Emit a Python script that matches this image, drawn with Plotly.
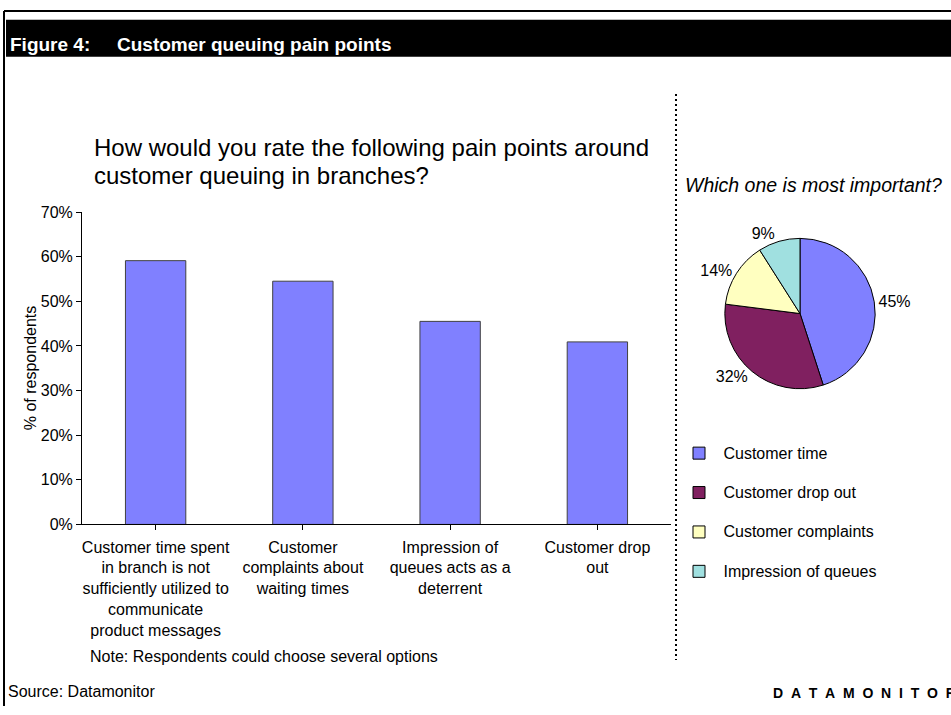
import plotly.graph_objects as go

W, H = 951, 715
FONT = "Liberation Sans, Arial, sans-serif"

# ---- data ----
bar_categories = [
    "Customer time spent<br>in branch is not<br>sufficiently utilized to<br>communicate<br>product messages",
    "Customer<br>complaints about<br>waiting times",
    "Impression of<br>queues acts as a<br>deterrent",
    "Customer drop<br>out",
]
bar_values = [0.591, 0.545, 0.455, 0.409]
y_tick_vals = [0, 0.1, 0.2, 0.3, 0.4, 0.5, 0.6, 0.7]
y_tick_text = ["0%", "10%", "20%", "30%", "40%", "50%", "60%", "70%"]

pie_labels = ["Customer time", "Customer drop out", "Customer complaints", "Impression of queues"]
pie_values = [45, 32, 14, 9]
pie_colors = ["#8080FF", "#802060", "#FFFFC0", "#A0E0E0"]

subtitle_lines = ["How would you rate the following pain points around",
                  "customer queuing in branches?"]


def px(x):
    return x / W


def py(y):
    return 1 - y / H


fig = go.Figure()

fig.add_trace(go.Bar(
    x=list(range(len(bar_values))),
    y=bar_values,
    width=0.41,
    marker=dict(color="#8080FF", line=dict(color="#404040", width=1)),
    showlegend=False,
    xaxis="x", yaxis="y",
))

legend_names = [f"<span style='font-size:16px'>\u00a0{l}</span><br> " for l in pie_labels]
fig.add_trace(go.Pie(
    labels=legend_names,
    values=pie_values,
    sort=False,
    direction="clockwise",
    rotation=0,
    marker=dict(colors=pie_colors, line=dict(color="black", width=1)),
    texttemplate="%{percent:.0%}",
    textposition="outside",
    textfont=dict(size=16, color="black", family=FONT),
    domain=dict(x=[px(723), px(877)], y=[py(390), py(236)]),
    hoverinfo="label+percent",
    showlegend=True,
))

fig.update_layout(
    width=W, height=H,
    margin=dict(l=0, r=0, t=0, b=0),
    paper_bgcolor="white",
    plot_bgcolor="white",
    font=dict(family=FONT, size=16, color="black"),
    xaxis=dict(
        domain=[px(82), px(671)],
        range=[-0.5, 3.5],
        tickmode="array",
        tickvals=list(range(len(bar_categories))),
        ticktext=bar_categories,
        tickson="boundaries",
        ticks="outside", ticklen=5, tickcolor="black",
        ticklabelstandoff=3,
        showline=True, linecolor="black", linewidth=1,
        showgrid=False, zeroline=False,
        tickfont=dict(size=16),
        fixedrange=True,
    ),
    yaxis=dict(
        domain=[py(529), py(209)],
        range=[0, 0.7],
        tickmode="array",
        tickvals=y_tick_vals,
        ticktext=y_tick_text,
        ticks="outside", ticklen=5, tickcolor="black",
        showline=True, linecolor="black", linewidth=1,
        showgrid=False, zeroline=False,
        tickfont=dict(size=16),
        fixedrange=True,
    ),
    legend=dict(
        x=px(679), y=py(440), xanchor="left", yanchor="top",
        font=dict(size=14, family=FONT),
        valign="top",
        bgcolor="rgba(0,0,0,0)",
        itemclick=False, itemdoubleclick=False,
    ),
)

shapes = [
    # black title band
    dict(type="rect", xref="paper", yref="paper", x0=px(6), x1=px(951), y0=py(50), y1=py(12),
         fillcolor="black", line=dict(width=0), layer="below"),
    # top border
    dict(type="line", xref="paper", yref="paper", x0=px(4), x1=px(951), y0=py(3), y1=py(3),
         line=dict(color="black", width=2)),
    # left border
    dict(type="line", xref="paper", yref="paper", x0=px(4), x1=px(4), y0=py(3), y1=py(715),
         line=dict(color="black", width=2)),
    # dotted separator
    dict(type="line", xref="paper", yref="paper", x0=px(676), x1=px(676), y0=py(88), y1=py(668),
         line=dict(color="black", width=2, dash="2px,3px")),
]
fig.update_layout(shapes=shapes)

ann = []
ann.append(dict(text="<b>Figure 4:</b>", x=px(8), y=py(37), xanchor="left", yanchor="middle",
                font=dict(size=19, color="white", family=FONT)))
ann.append(dict(text="<b>Customer queuing pain points</b>", x=px(115), y=py(37), xanchor="left",
                yanchor="middle", font=dict(size=19, color="white", family=FONT)))
for i, line in enumerate(subtitle_lines):
    ann.append(dict(text=line, x=px(92), y=py(143 + 29 * i), xanchor="left", yanchor="middle",
                    font=dict(size=24, family=FONT)))
ann.append(dict(text="% of respondents", textangle=-90, x=px(30), y=py(369), xanchor="center",
                yanchor="middle", font=dict(size=16, family=FONT)))
ann.append(dict(text="Note: Respondents could choose several options", x=px(88), y=py(664),
                xanchor="left", yanchor="middle", font=dict(size=16, family=FONT)))
ann.append(dict(text="<i>Which one is most important?</i>", x=px(683), y=py(181), xanchor="left",
                yanchor="middle", font=dict(size=19.5, family=FONT)))
ann.append(dict(text="Source: Datamonitor", x=px(6), y=py(700), xanchor="left", yanchor="middle",
                font=dict(size=16, family=FONT)))
ann.append(dict(text="<b>" + "\u00a0\u00a0".join("DATAMONITOR") + "</b>", x=px(958), y=py(702),
                xanchor="right", yanchor="middle", font=dict(size=14, family=FONT)))
for a in ann:
    a.update(xref="paper", yref="paper", showarrow=False)
fig.update_layout(annotations=ann)

fig.write_html("out.html")
